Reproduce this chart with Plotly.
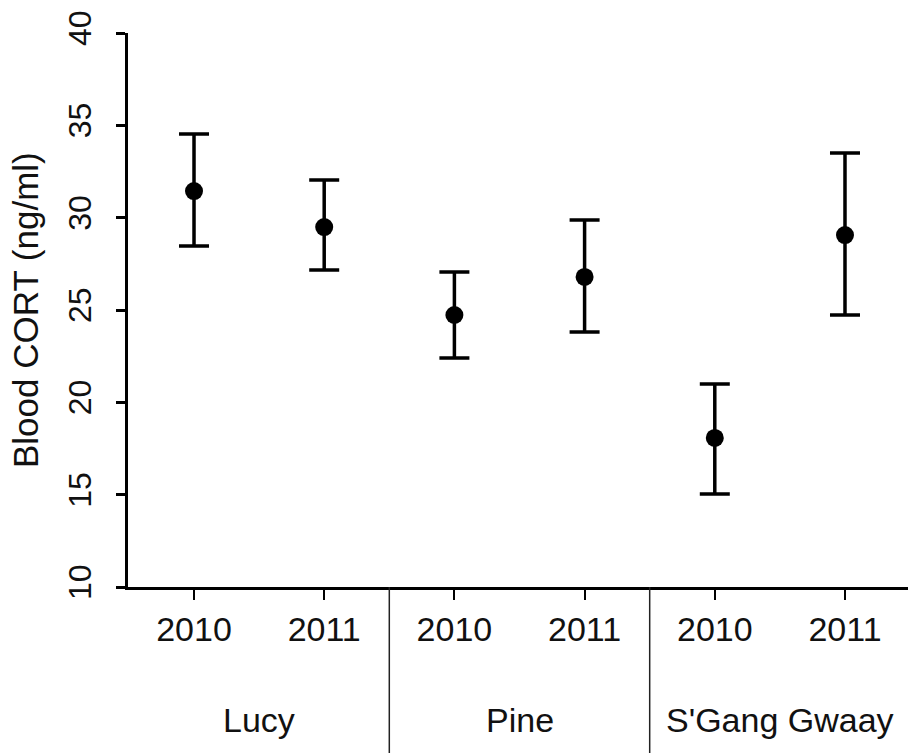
import plotly.graph_objects as go

# Blood corticosterone by site and year (mean with error bars)
sites = ["Lucy", "Pine", "S'Gang Gwaay"]
years = ["2010", "2011", "2010", "2011", "2010", "2011"]
cort_mean = [31.44, 29.49, 24.73, 26.79, 18.07, 29.06]
cort_upper = [34.53, 32.04, 27.06, 29.87, 20.99, 33.50]
cort_lower = [28.47, 27.17, 22.40, 23.81, 15.04, 24.73]

positions = list(range(1, len(years) + 1))
err_plus = [u - m for u, m in zip(cort_upper, cort_mean)]
err_minus = [m - l for m, l in zip(cort_mean, cort_lower)]

FONT = "Arial, Liberation Sans, sans-serif"
x_range = [0.493, 6.484]

fig = go.Figure()
fig.add_trace(go.Scatter(
    x=positions,
    y=cort_mean,
    mode="markers",
    marker=dict(symbol="circle", size=18, color="black"),
    error_y=dict(type="data", symmetric=False, array=err_plus, arrayminus=err_minus,
                 color="black", thickness=3.5, width=15),
    showlegend=False,
    hoverinfo="skip",
))

# Vertical separators between site groups, running below the x axis
def to_paper(v):
    return (v - x_range[0]) / (x_range[1] - x_range[0])

for sep in [2.5, 4.5]:
    fig.add_shape(type="line", xref="paper", yref="paper",
                  x0=to_paper(sep), x1=to_paper(sep), y0=0, y1=-0.31,
                  line=dict(color="#222222", width=1.5))

# Site labels centred under each pair of years
for i, site in enumerate(sites):
    fig.add_annotation(x=2 * i + 1.5, xref="x", y=0, yref="paper",
                       yshift=-133, yanchor="middle", xanchor="center",
                       text=site, showarrow=False,
                       font=dict(family=FONT, size=34, color="#111111"))

# Y-axis title
fig.add_annotation(x=0, xref="paper", y=0.5, yref="paper", xshift=-103,
                   xanchor="center", yanchor="middle", textangle=-90,
                   text="Blood CORT (ng/ml)", showarrow=False,
                   font=dict(family=FONT, size=35, color="#111111"))

fig.update_layout(
    width=908, height=753,
    margin=dict(l=128, r=0, t=33, b=166),
    paper_bgcolor="white", plot_bgcolor="white",
    font=dict(family=FONT, color="#111111"),
    xaxis=dict(
        range=x_range, tickmode="array", tickvals=positions, ticktext=years,
        showline=True, linecolor="black", linewidth=3,
        ticks="outside", ticklen=10, tickwidth=1.5, tickcolor="black",
        tickfont=dict(family=FONT, size=34, color="#111111"),
        showgrid=False, zeroline=False, fixedrange=True,
    ),
    yaxis=dict(
        range=[10, 40], tickmode="array", tickvals=[10, 15, 20, 25, 30, 35, 40],
        showline=True, linecolor="black", linewidth=3,
        ticks="outside", ticklen=9, tickwidth=2.5, tickcolor="black",
        tickangle=-90, ticklabelstandoff=12,
        tickfont=dict(family=FONT, size=32, color="#111111"),
        showgrid=False, zeroline=False, fixedrange=True,
    ),
)

fig.write_html("out.html")
